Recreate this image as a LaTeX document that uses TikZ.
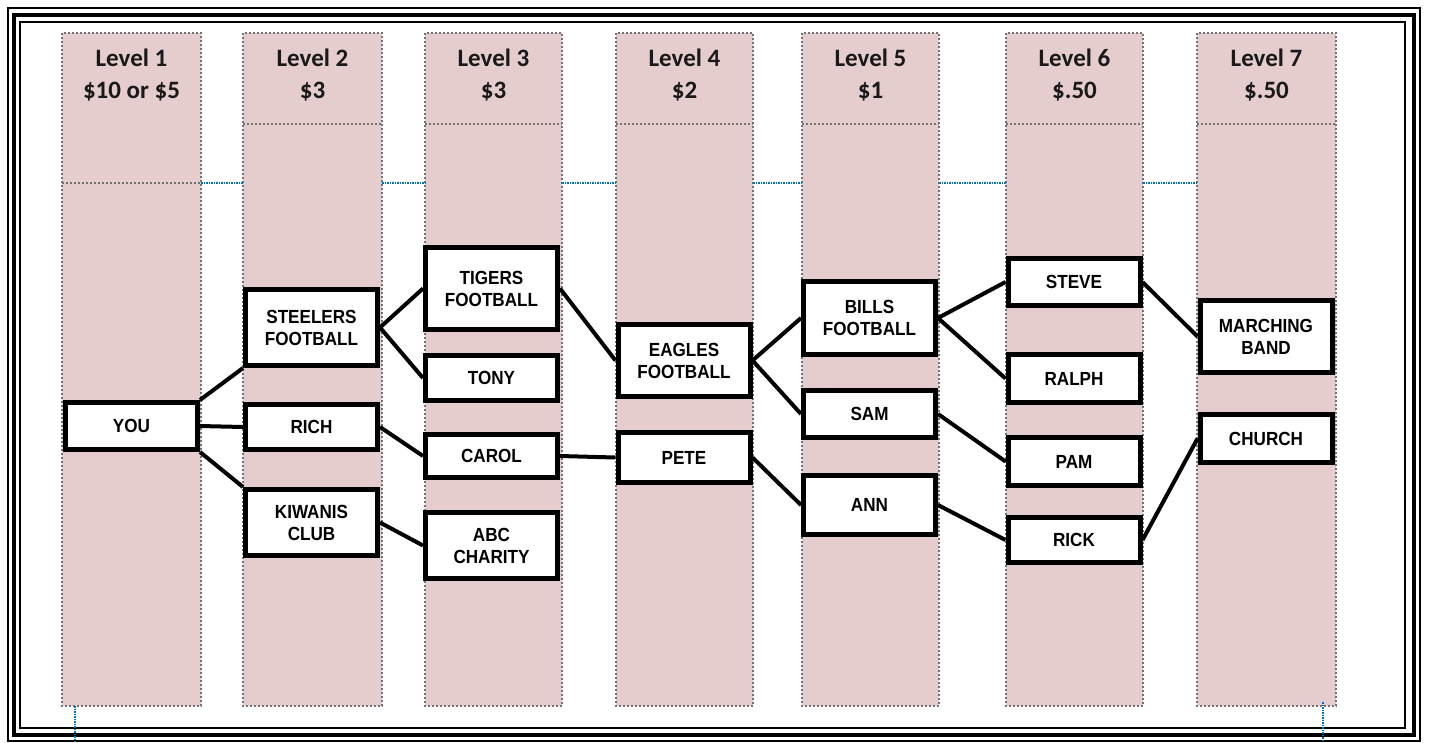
\documentclass[tikz,border=0pt]{standalone}
\usepackage{fontspec}
\setmainfont{Liberation Sans}
\newfontfamily\boxfont[FakeStretch=0.9]{Liberation Sans}
\newfontfamily\headfont{Carlito}
\usepackage{tikz}
\usepackage{xcolor}
\usetikzlibrary{positioning}
\definecolor{colpink}{RGB}{229,205,205}
\definecolor{gridblue}{RGB}{0,112,192}
\tikzstyle{levelcol} = [rectangle, draw=black!55, line width=1.3pt, dash pattern=on 2pt off 2pt, fill=colpink]
\tikzstyle{levelsep} = [draw=black!55, line width=1.3pt, dash pattern=on 2pt off 2pt]
\tikzstyle{levelhead} = [align=center, text=black!90, font=\headfont\bfseries\fontsize{25}{32}\selectfont]
\tikzstyle{member} = [rectangle, minimum width=132pt, minimum height=47pt, text centered, line width=5pt, draw=black, fill=white, font=\boxfont\bfseries\fontsize{19}{22}\selectfont]
\tikzstyle{group} = [member, minimum height=72pt, align=center]
\tikzstyle{tie} = [line width=4pt, black]
\tikzstyle{gridline} = [gridblue, line width=1.5pt, dash pattern=on 1.5pt off 1pt]

\begin{document}
\begin{tikzpicture}[x=1pt, y=-1pt]
		\useasboundingbox (0,0) rectangle (1429,742);
		% page border
		\draw [line width=1.5pt] (8,8) rectangle (1420,741);
		\draw [line width=4pt] (14,15) rectangle (1414,735);
		\draw [line width=1.5pt] (20,22) rectangle (1405,728);
		
		% level columns
		\draw [levelcol] (62,33) rectangle (201,706);
		\draw [levelcol] (243,33) rectangle (382,706);
		\draw [levelcol] (425,33) rectangle (562,706);
		\draw [levelcol] (616,33) rectangle (753,706);
		\draw [levelcol] (802,33) rectangle (939,706);
		\draw [levelcol] (1006,33) rectangle (1143,706);
		\draw [levelcol] (1197,33) rectangle (1336,706);
		\draw [levelsep] (62,183) -- (201,183);
		\draw [levelsep] (243,124) -- (382,124);
		\draw [levelsep] (425,124) -- (562,124);
		\draw [levelsep] (616,124) -- (753,124);
		\draw [levelsep] (802,124) -- (939,124);
		\draw [levelsep] (1006,124) -- (1143,124);
		\draw [levelsep] (1197,124) -- (1336,124);
		\draw [gridline] (201,183) -- (243,183);
		\draw [gridline] (382,183) -- (425,183);
		\draw [gridline] (562,183) -- (616,183);
		\draw [gridline] (753,183) -- (802,183);
		\draw [gridline] (939,183) -- (1006,183);
		\draw [gridline] (1143,183) -- (1197,183);
		\draw [gridline] (75,706) -- (75,742);
		\draw [gridline] (1323,702) -- (1323,742);
		
		\node (head1) [levelhead] at (131.5,75) {Level 1\\\$10 or \$5};
		\node (head2) [levelhead] at (312.5,75) {Level 2\\\$3};
		\node (head3) [levelhead] at (493.5,75) {Level 3\\\$3};
		\node (head4) [levelhead] at (684.5,75) {Level 4\\\$2};
		\node (head5) [levelhead] at (870.5,75) {Level 5\\\$1};
		\node (head6) [levelhead] at (1074.5,75) {Level 6\\\$.50};
		\node (head7) [levelhead] at (1266.5,75) {Level 7\\\$.50};
		
		% tree
		\node (you) [member] at (131.5,426) {YOU};
		\node (steelers) [group, minimum height=76pt] at (311.5,327.5) {STEELERS\\FOOTBALL};
		\node (rich) [member, minimum height=45pt] at (311.5,427) {RICH};
		\node (kiwanis) [group, minimum height=66pt] at (311.5,522.5) {KIWANIS\\CLUB};
		\node (tigers) [group, minimum height=82pt] at (491.5,288.5) {TIGERS\\FOOTBALL};
		\node (tony) [member, minimum height=45pt] at (491.5,378) {TONY};
		\node (carol) [member, minimum height=43pt] at (491.5,456) {CAROL};
		\node (abc) [group, minimum height=66pt] at (491.5,545.5) {ABC\\CHARITY};
		\node (eagles) [group] at (684,360.5) {EAGLES\\FOOTBALL};
		\node (pete) [member, minimum height=50pt] at (684,457.5) {PETE};
		\node (bills) [group, minimum height=73pt] at (869.5,318) {BILLS\\FOOTBALL};
		\node (sam) [member] at (869.5,414) {SAM};
		\node (ann) [member, minimum height=59pt] at (869.5,505) {ANN};
		\node (steve) [member] at (1074,282) {STEVE};
		\node (ralph) [member, minimum height=48pt] at (1074,378.5) {RALPH};
		\node (pam) [member, minimum height=48pt] at (1074,461.5) {PAM};
		\node (rick) [member, minimum height=45pt] at (1074,540) {RICK};
		\node (marching) [group] at (1266,336.5) {MARCHING\\BAND};
		\node (church) [member, minimum height=48pt] at (1266,438.5) {CHURCH};
		
		\draw [tie] (you.north east) -- (steelers.south west);
		\draw [tie] (you.east) -- (rich.west);
		\draw [tie] (you.south east) -- (kiwanis.north west);
		\draw [tie] (steelers.east) -- (tigers.west);
		\draw [tie] (steelers.east) -- (tony.west);
		\draw [tie] (rich.east) -- (carol.west);
		\draw [tie] (kiwanis.east) -- (abc.west);
		\draw [tie] (tigers.east) -- (eagles.west);
		\draw [tie] (carol.east) -- (pete.west);
		\draw [tie] (eagles.east) -- (bills.west);
		\draw [tie] (eagles.east) -- (sam.west);
		\draw [tie] (pete.east) -- (ann.west);
		\draw [tie] (bills.east) -- (steve.west);
		\draw [tie] (bills.east) -- (ralph.west);
		\draw [tie] (sam.east) -- (pam.west);
		\draw [tie] (ann.east) -- (rick.west);
		\draw [tie] (steve.east) -- (marching.west);
		\draw [tie] (rick.east) -- (church.west);
	\end{tikzpicture}
\end{document}
